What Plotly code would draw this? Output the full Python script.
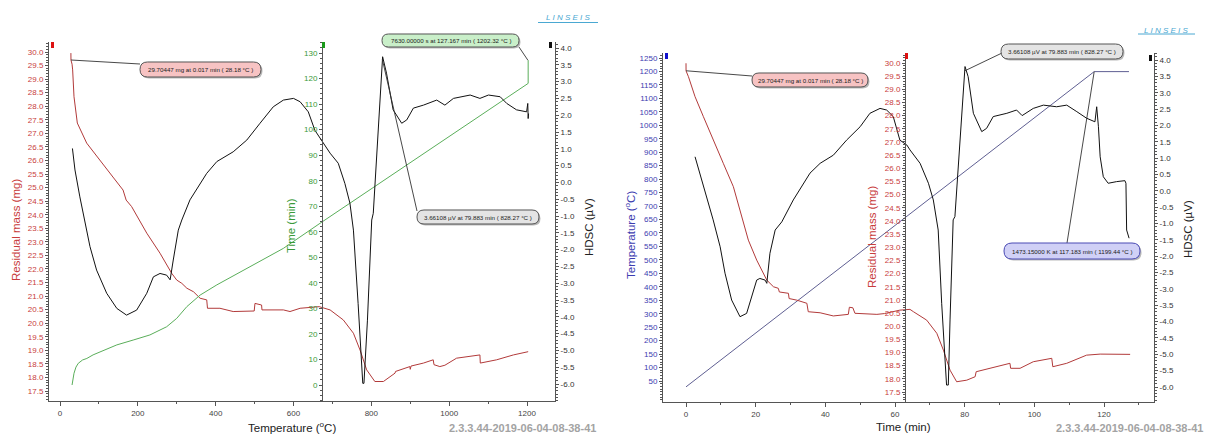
import plotly.graph_objects as go

# ---------------- DATA ----------------
# Left panel: curves against sample temperature (°C)
left_mass_T = [28, 28.2, 31, 32.5, 36, 44.5, 68.6, 103, 136, 162, 170, 184, 197, 223, 257, 287, 300,
               313, 326, 343, 360, 377, 379, 411, 445, 499, 501, 518, 519, 574, 591, 617, 666, 694,
               728, 754, 771, 788, 809, 831, 861, 862, 899, 900, 902, 934, 959, 961, 976, 989, 1019,
               1045, 1079, 1080, 1122, 1165, 1203]
left_mass_mg = [29.96, 29.70, 29.55, 29.34, 28.35, 27.38, 26.64, 26.02, 25.39, 24.91, 24.54, 24.30,
                23.99, 23.32, 22.58, 21.84, 21.59, 21.47, 21.29, 21.16, 20.92, 20.86, 20.55, 20.55,
                20.43, 20.45, 20.73, 20.67, 20.49, 20.49, 20.43, 20.55, 20.61, 20.49, 20.12, 19.63,
                19.01, 18.28, 17.85, 17.85, 18.16, 18.22, 18.40, 18.30, 18.42, 18.53, 18.65, 18.47,
                18.40, 18.45, 18.71, 18.77, 18.83, 18.53, 18.65, 18.83, 18.95]

left_hdsc_T = [32, 38.5, 51, 64, 77, 94, 120, 146, 171, 197, 223, 240, 257, 274, 283, 291, 304, 313,
               334, 377, 403, 445, 480, 514, 548, 574, 600, 617, 638, 655, 668, 694, 715, 732, 745,
               754, 766, 778, 781, 790, 801, 805, 829, 839, 856, 878, 891, 908, 934, 968, 989, 1011,
               1054, 1079, 1101, 1131, 1148, 1173, 1199, 1202, 1203, 1204]
left_hdsc_uV = [1.01, 0.37, -0.43, -1.22, -1.91, -2.61, -3.30, -3.75, -3.95, -3.80, -3.30, -2.81,
                -2.71, -2.76, -2.90, -2.31, -1.42, -1.12, -0.52, 0.27, 0.62, 0.91, 1.26, 1.76, 2.25,
                2.45, 2.50, 2.40, 2.10, 1.55, 1.31, 0.87, 0.57, -0.03, -0.62, -1.42, -3.60, -5.98,
                -5.98, -4.10, -1.12, -0.92, 3.74, 3.25, 2.16, 1.76, 1.86, 2.21, 2.30, 2.45, 2.30,
                2.50, 2.60, 2.50, 2.60, 2.55, 2.35, 2.16, 2.10, 2.35, 1.90, 2.05]

left_time_T = [31, 33, 36, 41, 47, 58, 69, 85, 103, 146, 188, 231, 274, 300, 326, 360, 403, 488,
               574, 668, 1203, 1203]
left_time_min = [0, 2.5, 4.6, 7.0, 8.5, 9.8, 10.4, 11.8, 13.0, 15.7, 17.6, 19.6, 22.8, 26.1, 30.7,
                 35.2, 39.2, 46.3, 53.5, 63.3, 118.1, 127.167]

# Right panel: curves against time (min)
right_mass_t = [0, 0.017, 0.7, 2.6, 5.0, 7.8, 10.7, 13.6, 15.5, 16.5, 17.9, 20.3, 23.2, 25.1, 26.5,
                26.8, 29.4, 29.6, 31.8, 34.7, 35.1, 38.5, 42.3, 46.6, 46.9, 47.9, 48.5, 54.8, 57.0,
                61.4, 64.3, 65.3, 69.1, 72.0, 73.9, 75.8, 77.7, 80.6, 83.0, 83.3, 87.3, 90.1, 93.0,
                93.2, 95.9, 99.7, 105.0, 105.3, 109.3, 115.0, 118.9, 127.5]
right_mass_mg = [29.99, 29.70, 29.48, 28.72, 27.96, 27.07, 26.19, 25.30, 24.41, 23.91, 23.27, 22.51,
                 21.75, 21.50, 21.44, 21.30, 21.25, 21.05, 20.99, 20.87, 20.55, 20.51, 20.39, 20.45,
                 20.72, 20.70, 20.49, 20.45, 20.48, 20.61, 20.64, 20.55, 20.23, 19.73, 19.09, 18.33,
                 17.89, 17.95, 18.08, 18.27, 18.40, 18.52, 18.59, 18.40, 18.40, 18.65, 18.78, 18.46,
                 18.59, 18.90, 18.94, 18.93]

right_hdsc_t = [2.6, 4.0, 5.9, 7.8, 9.8, 11.2, 13.1, 15.5, 17.4, 18.9, 20.3, 21.2, 22.7, 23.2, 24.1,
                25.6, 27.5, 30.8, 35.6, 38.5, 42.3, 46.1, 50.0, 52.8, 55.7, 57.6, 59.5, 61.4, 63.4,
                64.3, 67.2, 69.6, 71.0, 72.4, 73.4, 74.8, 75.3, 75.8, 76.7, 77.2, 80.1, 81.0, 82.5,
                84.9, 86.3, 88.2, 92.1, 94.9, 96.5, 99.7, 102.6, 106.4, 109.3, 112.2, 115.0, 117.4,
                117.9, 118.4, 118.9, 119.8, 121.2, 123.6, 126.0, 126.3, 126.5, 127.2]
right_hdsc_uV = [1.04, 0.54, -0.18, -0.89, -1.71, -2.52, -3.34, -3.85, -3.75, -3.24, -2.73, -2.68,
                 -2.73, -2.83, -1.91, -1.20, -0.95, -0.28, 0.54, 0.84, 1.09, 1.55, 1.96, 2.37, 2.52,
                 2.47, 2.27, 1.55, 1.40, 1.25, 0.84, 0.23, -0.28, -1.20, -3.44, -5.94, -5.94, -3.95,
                 -0.89, -0.79, 3.80, 3.49, 2.37, 1.81, 1.91, 2.27, 2.37, 2.47, 2.30, 2.52, 2.62, 2.57,
                 2.62, 2.42, 2.22, 2.11, 2.57, 1.96, 1.04, 0.43, 0.23, 0.28, 0.31, 0.23, -1.20, -1.45]

right_temp_t = [0, 117.183, 127.17]
right_temp_C = [28.18, 1199.44, 1199.44]

# Callout values
mass_pick = (0.017, 28.18, 29.70447)        # min, °C, mg
time_pick = (127.167, 1202.32, 7630.0)     # min, °C, s
hdsc_pick = (79.883, 828.27, 3.66108)      # min, °C, µV
temp_pick = (117.183, 1199.44, 1473.15)    # min, °C, K

# Tick labels
mass_ticks = [17.5 + 0.5 * i for i in range(26)]
time_ticks = list(range(0, 131, 10))
hdsc_ticks = [-6.0 + 0.5 * i for i in range(21)]
temp_ticks = list(range(50, 1251, 50))
xT_ticks = list(range(0, 1201, 200))
xt_ticks = list(range(0, 121, 20))

VERSION = "2.3.3.44-2019-06-04-08-38-41"

# ---------------- STYLE / LAYOUT ----------------
W, H = 1206, 436
MASS_C = "#b23a3a"
MASS_T = "#c83c3c"
TIME_C = "#5aae5a"
TIME_T = "#3a9a3a"
TEMP_C = "#5f5f92"
TEMP_T = "#3c3cb0"
HDSC_C = "#111111"
AX = "#555555"
FONT = "Liberation Sans"


def fx(p):
    return p / W


def fy(p):
    return 1 - p / H


def lin(p, p0, v0, p1, v1):
    return v0 + (p - p0) * (v1 - v0) / (p1 - p0)


# pixel calibrations (pixel anchor a -> value a, pixel anchor b -> value b)
CAL = {
    "xL": (60, 0, 527, 1200), "yL_mass": (52, 30, 391, 17.5), "yL_time": (53, 130, 385, 0),
    "yL_hdsc": (48, 4, 384, -6),
    "xR": (686, 0, 1104, 120), "yR_temp": (58, 1250, 381, 50), "yR_mass": (63, 30, 392, 17.5),
    "yR_hdsc": (60, 4, 387, -6),
}
L_X = (49, 555)
L_Y = (42, 401)
R_X = (663, 1154)
R_Y = (53, 402)


def rng(key, a, b):
    c = CAL[key]
    return sorted([lin(a, *c), lin(b, *c)])


def val(key, p):
    return lin(p, *CAL[key])


fig = go.Figure()

# left panel traces
fig.add_trace(go.Scatter(x=left_time_T, y=left_time_min, xaxis="x", yaxis="y2", mode="lines",
                         line=dict(color=TIME_C, width=1), hoverinfo="skip"))
fig.add_trace(go.Scatter(x=left_mass_T, y=left_mass_mg, xaxis="x", yaxis="y", mode="lines",
                         line=dict(color=MASS_C, width=1), hoverinfo="skip"))
fig.add_trace(go.Scatter(x=left_hdsc_T, y=left_hdsc_uV, xaxis="x", yaxis="y3", mode="lines",
                         line=dict(color=HDSC_C, width=1), hoverinfo="skip"))
# right panel traces
fig.add_trace(go.Scatter(x=right_temp_t, y=right_temp_C, xaxis="x2", yaxis="y4", mode="lines",
                         line=dict(color=TEMP_C, width=1), hoverinfo="skip"))
fig.add_trace(go.Scatter(x=right_mass_t, y=right_mass_mg, xaxis="x2", yaxis="y5", mode="lines",
                         line=dict(color=MASS_C, width=1), hoverinfo="skip"))
fig.add_trace(go.Scatter(x=right_hdsc_t, y=right_hdsc_uV, xaxis="x2", yaxis="y6", mode="lines",
                         line=dict(color=HDSC_C, width=1), hoverinfo="skip"))

# callouts: (x-axis key, y-axis key, trace axes, point, tail pixel, box pixel, text, fill, border)
callouts = [
    ("xL", "yL_mass", "x", "y", (mass_pick[1], mass_pick[2]), (140, 64), (140, 62, 261, 77),
     f"{mass_pick[2]:.5f} mg at {mass_pick[0]:.3f} min ( {mass_pick[1]:.2f} °C )", "#f7c3c3", "#555555"),
    ("xL", "yL_time", "x", "y2", (time_pick[1], time_pick[0]), (519, 47), (382, 34, 519, 47),
     f"{time_pick[2]:.5f} s at {time_pick[0]:.3f} min ( {time_pick[1]:.2f} °C )", "#c9efc9", "#555555"),
    ("xL", "yL_hdsc", "x", "y3", (hdsc_pick[1], hdsc_pick[2]), (417, 211), (417, 210, 539, 224),
     f"{hdsc_pick[2]:.5f} µV at {hdsc_pick[0]:.3f} min ( {hdsc_pick[1]:.2f} °C )", "#e4e4e4", "#555555"),
    ("xR", "yR_mass", "x2", "y5", (mass_pick[0], mass_pick[2]), (752, 76), (752, 73, 868, 87),
     f"{mass_pick[2]:.5f} mg at {mass_pick[0]:.3f} min ( {mass_pick[1]:.2f} °C )", "#f7c3c3", "#555555"),
    ("xR", "yR_hdsc", "x2", "y6", (hdsc_pick[0], hdsc_pick[2]), (1002, 53), (1001, 44, 1123, 59),
     f"{hdsc_pick[2]:.5f} µV at {hdsc_pick[0]:.3f} min ( {hdsc_pick[1]:.2f} °C )", "#e4e4e4", "#555555"),
    ("xR", "yR_temp", "x2", "y4", (temp_pick[0], temp_pick[1]), (1067, 243), (1004, 243, 1140, 259),
     f"{temp_pick[2]:.5f} K at {temp_pick[0]:.3f} min ( {temp_pick[1]:.2f} °C )", "#d0d0f6", "#4a4ab4"),
]


def pill(x0, y0, x1, y1):
    r = (y1 - y0) / 2
    pts = [("M", [(x0 + r, y0)]), ("L", [(x1 - r, y0)]), ("Q", [(x1, y0), (x1, y0 + r)]),
           ("Q", [(x1, y1), (x1 - r, y1)]), ("L", [(x0 + r, y1)]), ("Q", [(x0, y1), (x0, y0 + r)]),
           ("Q", [(x0, y0), (x0 + r, y0)])]
    s = ""
    for cmd, ps in pts:
        s += cmd + " " + " ".join(f"{fx(a):.5f},{fy(b):.5f}" for a, b in ps) + " "
    return s + "Z"


shapes = []
annotations = []
for xk, yk, xa, ya, pt, tail, box, text, fill, border in callouts:
    fig.add_trace(go.Scatter(x=[pt[0], val(xk, tail[0])], y=[pt[1], val(yk, tail[1])], xaxis=xa,
                             yaxis=ya, mode="lines", line=dict(color="#333333", width=0.9),
                             hoverinfo="skip"))
    x0, y0, x1, y1 = box
    shapes.append(dict(type="path", xref="paper", yref="paper", path=pill(x0 + 1.5, y0 + 1.5, x1 + 1.5, y1 + 1.5),
                       fillcolor="rgba(0,0,0,0.28)", line=dict(width=0)))
    shapes.append(dict(type="path", xref="paper", yref="paper", path=pill(x0, y0, x1, y1),
                       fillcolor=fill, line=dict(color=border, width=1)))
    annotations.append(dict(x=fx((x0 + x1) / 2), y=fy((y0 + y1) / 2), xref="paper", yref="paper",
                            text=text, showarrow=False, xanchor="center", yanchor="middle",
                            font=dict(family=FONT, size=6.2, color="#222222")))

# small axis colour markers
for (x0, y0, x1, y1, c) in [(51, 42, 54, 48, "#dd1111"), (322, 42, 325, 48, "#1a9a1a"),
                            (549, 42, 552, 48, "#111111"), (665, 53, 668, 59, "#1111cc"),
                            (905, 53, 908, 59, "#dd1111"), (1149, 55, 1152, 61, "#111111")]:
    shapes.append(dict(type="rect", xref="paper", yref="paper", x0=fx(x0), x1=fx(x1), y0=fy(y1),
                       y1=fy(y0), fillcolor=c, line=dict(width=0)))

# logos
for (cx, cy, ux0, ux1, uy) in [(568, 18, 538, 598, 22.5), (1166, 30, 1138, 1195, 34)]:
    annotations.append(dict(x=fx(cx), y=fy(cy), xref="paper", yref="paper",
                            text="<i>L I N S E I S</i>", showarrow=False, xanchor="center",
                            yanchor="middle", font=dict(family=FONT, size=8, color="#4aa8d2")))
    shapes.append(dict(type="line", xref="paper", yref="paper", x0=fx(ux0), x1=fx(ux1), y0=fy(uy),
                       y1=fy(uy), line=dict(color="#4aa8d2", width=1)))

# axis titles and version stamps
titles = [
    ("Residual mass (mg)", 16, 230, -90, MASS_T),
    ("Time (min)", 291, 226, -90, TIME_T),
    ("HDSC (µV)", 589, 227, -90, "#222222"),
    ("Temperature (<sup>o</sup>C)", 630, 235, -90, TEMP_T),
    ("Residual mass (mg)", 872, 237, -90, MASS_T),
    ("HDSC (µV)", 1188, 229, -90, "#222222"),
    ("Temperature (<sup>o</sup>C)", 292, 427, 0, "#222222"),
    ("Time (min)", 903, 427, 0, "#222222"),
]
for text, x, y, ang, c in titles:
    annotations.append(dict(x=fx(x), y=fy(y), xref="paper", yref="paper", text=text,
                            showarrow=False, textangle=ang, xanchor="center", yanchor="middle",
                            font=dict(family=FONT, size=11.5, color=c)))
annotations.append(dict(x=fx(447), y=fy(428), xref="paper", yref="paper", text=f"<b>{VERSION}</b>",
                        showarrow=False, xanchor="left", yanchor="middle",
                        font=dict(family=FONT, size=11, color="#a3a3a3")))
annotations.append(dict(x=fx(1205), y=fy(428), xref="paper", yref="paper", text=f"<b>{VERSION}</b>",
                        showarrow=False, xanchor="right", yanchor="middle",
                        font=dict(family=FONT, size=11, color="#a3a3a3")))


def yax(key, ticks, fmt, color, ypix, **kw):
    d = dict(range=rng(key, ypix[0], ypix[1]), tickmode="array", tickvals=ticks,
             ticktext=[format(t, fmt) for t in ticks], showgrid=False, zeroline=False,
             showline=True, linecolor=AX, linewidth=1, ticks="outside", ticklen=3, tickcolor=AX,
             tickfont=dict(family=FONT, size=8, color=color), fixedrange=True)
    d.update(kw)
    return d


def xax(key, ticks, xpix, ypix, anchor):
    return dict(domain=[fx(xpix[0]), fx(xpix[1])], range=rng(key, xpix[0], xpix[1]),
                tickmode="array", tickvals=ticks, showgrid=False, zeroline=False, showline=True,
                linecolor=AX, linewidth=1, ticks="outside", ticklen=4, tickcolor=AX,
                tickfont=dict(family=FONT, size=8, color="#444444"), anchor=anchor, fixedrange=True,
                minor=dict(tickmode="linear", tick0=0, dtick=(ticks[1] - ticks[0]) / 2, ticklen=2,
                           ticks="outside", tickcolor=AX))


fig.update_layout(
    width=W, height=H, margin=dict(l=0, r=0, t=0, b=0), autosize=False,
    paper_bgcolor="white", plot_bgcolor="white", showlegend=False, hovermode=False,
    xaxis=xax("xL", xT_ticks, L_X, L_Y, "y"),
    xaxis2=xax("xR", xt_ticks, R_X, R_Y, "y4"),
    yaxis=yax("yL_mass", mass_ticks, ".1f", MASS_T, L_Y, domain=[fy(L_Y[1]), fy(L_Y[0])],
              anchor="x", side="left",
              minor=dict(tickmode="linear", tick0=0, dtick=0.1, ticklen=2, ticks="outside", tickcolor=AX)),
    yaxis2=yax("yL_time", time_ticks, "d", TIME_T, L_Y, overlaying="y", anchor="free",
               position=fx(322), side="left",
               minor=dict(tickmode="linear", tick0=0, dtick=2, ticklen=2, ticks="outside", tickcolor=AX)),
    yaxis3=yax("yL_hdsc", hdsc_ticks, ".1f", "#333333", L_Y, overlaying="y", anchor="x", side="right",
               minor=dict(tickmode="linear", tick0=0, dtick=0.1, ticklen=2, ticks="outside", tickcolor=AX)),
    yaxis4=yax("yR_temp", temp_ticks, "d", TEMP_T, R_Y, domain=[fy(R_Y[1]), fy(R_Y[0])],
               anchor="x2", side="left",
               minor=dict(tickmode="linear", tick0=0, dtick=10, ticklen=2, ticks="outside", tickcolor=AX)),
    yaxis5=yax("yR_mass", mass_ticks, ".1f", MASS_T, R_Y, overlaying="y4", anchor="free",
               position=fx(905), side="left",
               minor=dict(tickmode="linear", tick0=0, dtick=0.1, ticklen=2, ticks="outside", tickcolor=AX)),
    yaxis6=yax("yR_hdsc", hdsc_ticks, ".1f", "#333333", R_Y, overlaying="y4", anchor="x2", side="right",
               minor=dict(tickmode="linear", tick0=0, dtick=0.1, ticklen=2, ticks="outside", tickcolor=AX)),
    shapes=shapes,
    annotations=annotations,
)

fig.write_html("out.html", config={"displayModeBar": False, "staticPlot": True},
               post_script="document.body.style.margin='0';document.body.style.overflow='hidden';")
